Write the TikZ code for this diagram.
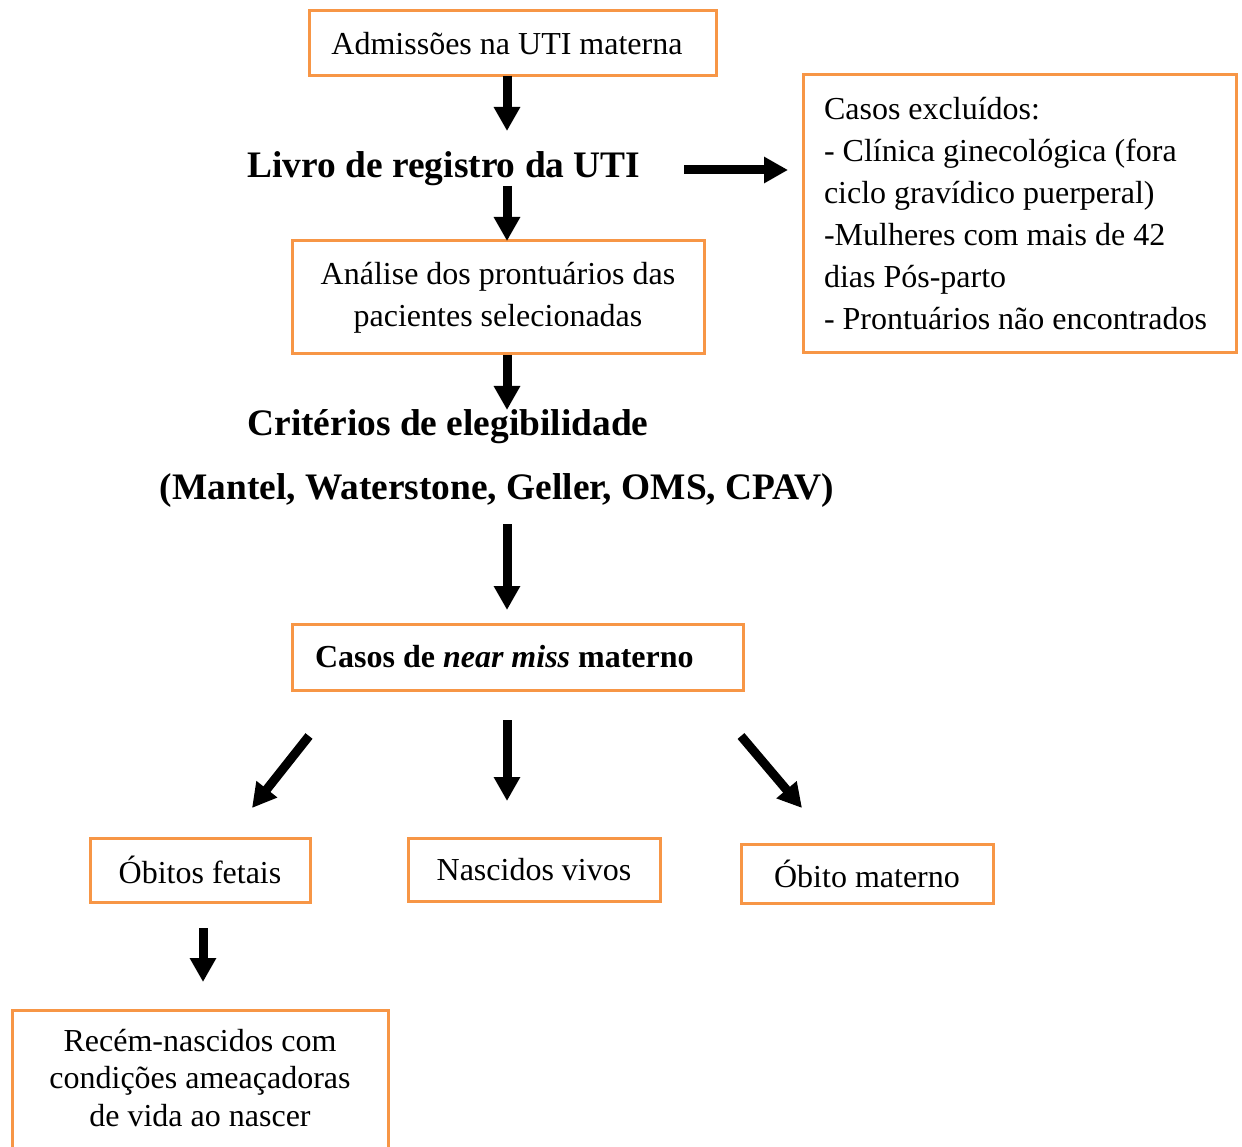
\documentclass[tikz,border=0pt]{standalone}
\usepackage{fontspec}
\setmainfont{Liberation Serif}
\usetikzlibrary{arrows.meta}
\definecolor{boxorange}{HTML}{F79646}
\tikzset{
  box/.style={draw=boxorange, line width=3pt, inner sep=0pt},
  reg/.style={font=\fontsize{32}{42}\selectfont},
  head/.style={font=\bfseries\fontsize{37.4}{44}\selectfont, inner sep=0pt},
  arr/.style={line width=9pt, -{Triangle[length=24pt,width=25pt]}}
}
\begin{document}
\begin{tikzpicture}[x=1pt,y=-1pt]
\useasboundingbox (0,0) rectangle (1242,1147);
\clip (0,0) rectangle (1242,1147);

\node[box, reg, minimum width=407, minimum height=65] (adm) at (512.5,43.5) {\hspace*{-11pt}Admissões na UTI materna};
\node[head] (livro) at (444,169) {Livro de registro da UTI};
\node[box, reg, text width=391, align=flush left, inner xsep=21, minimum height=278] (excl) at (1019.5,214)
  {Casos excluídos:\\- Clínica ginecológica (fora\\ciclo gravídico puerperal)\\-Mulheres com mais de 42\\dias Pós-parto\\- Prontuários não encontrados};
\node[box, reg, align=center, minimum width=412, minimum height=113] (anal) at (498,297.5)
  {Análise dos prontuários das\\pacientes selecionadas};
\node[head] (crit) at (448,427) {Critérios de elegibilidade};
\node[head] (mantel) at (497,491) {(Mantel, Waterstone, Geller, OMS, CPAV)};
\node[box, reg, text width=405, align=flush left, inner xsep=23, minimum height=66] (near) at (517.5,657)
  {\textbf{Casos de \textit{near miss} materno}};
\node[box, reg, minimum width=220, minimum height=64] (fetais) at (200,870) {Óbitos fetais};
\node[box, reg, minimum width=252, minimum height=63] (vivos) at (534,869.5) {Nascidos vivos};
\node[box, reg, minimum width=252, minimum height=59] (materno) at (867,873.5) {Óbito materno};
\node[box, minimum width=376, minimum height=160] (rnbox) at (200,1090) {};
\node[font=\fontsize{32}{37.5}\selectfont, align=center] (rntext) at (200,1078)
  {Recém-nascidos com\\condições ameaçadoras\\de vida ao nascer};

\coordinate (a1s) at (507,76);  \coordinate (a1e) at (507,131);
\coordinate (a2s) at (507,186); \coordinate (a2e) at (507,241);
\coordinate (a3s) at (684,170); \coordinate (a3e) at (788,170);
\coordinate (a4s) at (507,355); \coordinate (a4e) at (507,410);
\coordinate (a5s) at (507,524); \coordinate (a5e) at (507,610);
\coordinate (a6s) at (309,736); \coordinate (a6e) at (252,808);
\coordinate (a7s) at (507,720); \coordinate (a7e) at (507,801);
\coordinate (a8s) at (741,736); \coordinate (a8e) at (802,808);
\coordinate (a9s) at (203,928); \coordinate (a9e) at (203,982);

\draw[arr] (a1s) -- (a1e);
\draw[arr] (a2s) -- (a2e);
\draw[arr] (a3s) -- (a3e);
\draw[arr] (a4s) -- (a4e);
\draw[arr] (a5s) -- (a5e);
\draw[arr] (a6s) -- (a6e);
\draw[arr] (a7s) -- (a7e);
\draw[arr] (a8s) -- (a8e);
\draw[arr] (a9s) -- (a9e);
\end{tikzpicture}
\end{document}
